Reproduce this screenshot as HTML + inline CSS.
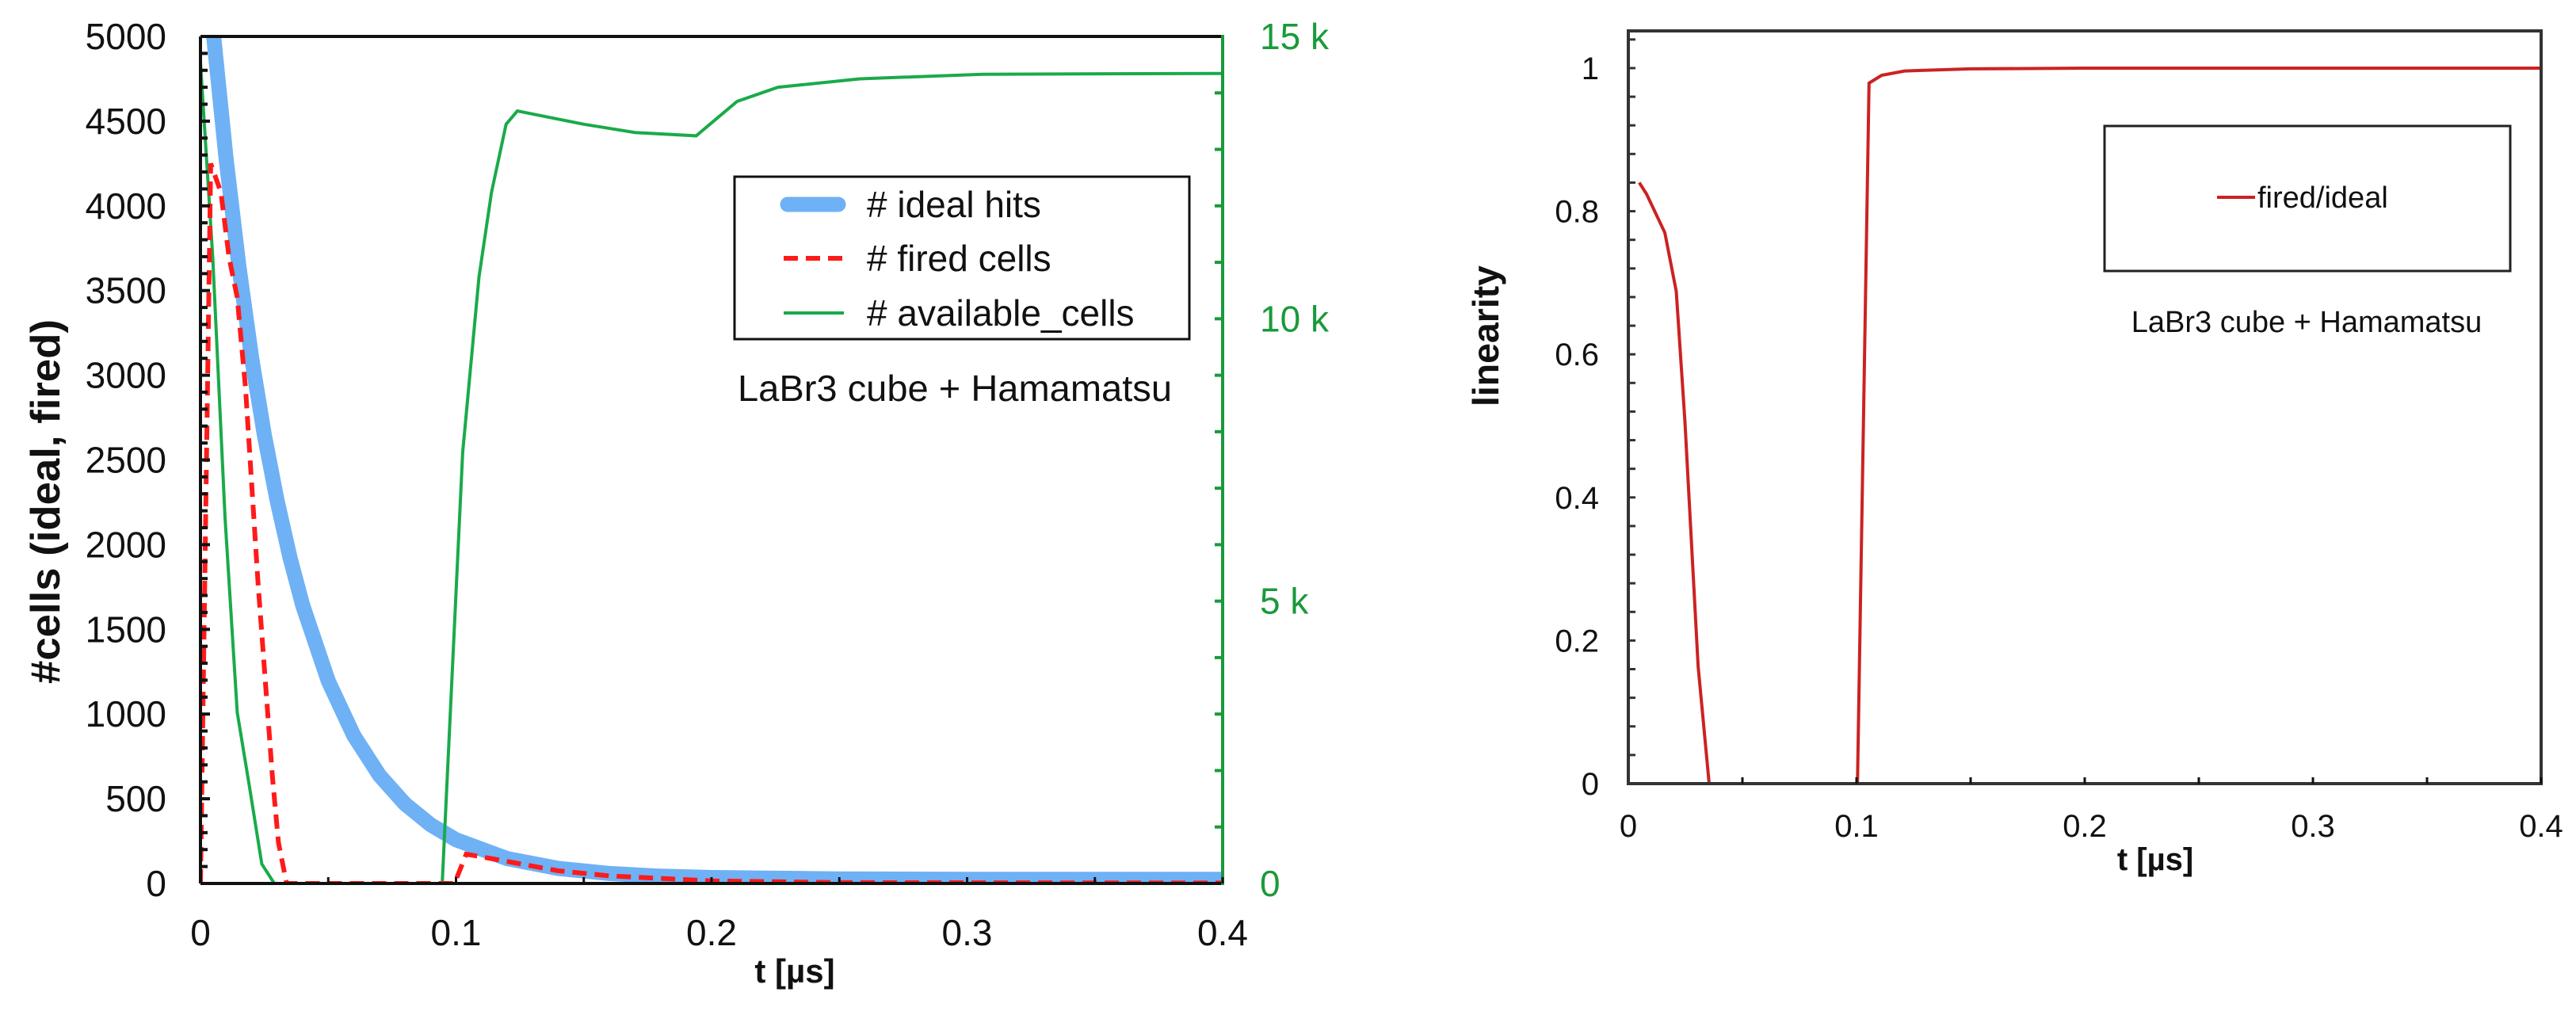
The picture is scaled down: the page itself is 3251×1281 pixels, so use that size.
<!DOCTYPE html>
<html><head><meta charset="utf-8"><style>
body{margin:0;background:#fff}
svg{display:block}
text{font-family:"Liberation Sans",Arial,sans-serif}
</style></head><body>
<svg id="s" width="3251" height="1281" viewBox="0 0 3251 1281" xmlns="http://www.w3.org/2000/svg">
<defs>
<clipPath id="clipL"><rect x="253" y="46" width="1290" height="1069"/></clipPath>
<clipPath id="clipR"><rect x="2055" y="39" width="1152" height="950"/></clipPath>
</defs>
<g id="left"></g>
<g id="right"></g>
</svg>
<script>
// ---- Left chart data ----
const idealT = [0, 0.005, 0.01, 0.015, 0.02, 0.025, 0.03, 0.035, 0.04, 0.05, 0.06, 0.07, 0.08, 0.09, 0.1, 0.12, 0.14, 0.16, 0.18, 0.2, 0.25, 0.3, 0.4];
const idealV = [5800, 5025, 4280, 3647, 3105, 2648, 2258, 1925, 1642, 1195, 873, 639, 470, 347, 258, 147, 89, 59, 43, 35, 27, 25, 25];
const firedT = [0, 0.004, 0.008, 0.0112, 0.0144, 0.0176, 0.0225, 0.0282, 0.0305, 0.0337, 0.0994, 0.104, 0.12, 0.14, 0.16, 0.2, 0.25, 0.4];
const firedV = [0, 4250, 4080, 3695, 3460, 2928, 1777, 625, 242, 0, 0, 173, 130, 75, 45, 15, 5, 3];
const availT = [0, 0.0048, 0.0096, 0.0144, 0.019, 0.024, 0.0289, 0.0946, 0.1026, 0.109, 0.1139, 0.1196, 0.124, 0.15, 0.17, 0.194, 0.21, 0.226, 0.258, 0.306, 0.4];
const availV = [14540, 11085, 6480, 3030, 1760, 345, 0, 0, 7630, 10740, 12240, 13445, 13680, 13445, 13300, 13240, 13850, 14100, 14250, 14330, 14345];
const leftYTicks = [0, 500, 1000, 1500, 2000, 2500, 3000, 3500, 4000, 4500, 5000];
const rightYTicks = [0, 5000, 10000, 15000];
const rightYLabels = ["0", "5 k", "10 k", "15 k"];
const xTicks = [0, 0.1, 0.2, 0.3, 0.4];
const xTickLabels = ["0", "0.1", "0.2", "0.3", "0.4"];
// ---- Right chart data ----
const linT = [0.0048, 0.008, 0.016, 0.021, 0.0248, 0.0306, 0.0354, 0.1004, 0.1055, 0.111, 0.121, 0.15, 0.2, 0.4];
const linV = [0.84, 0.824, 0.77, 0.688, 0.507, 0.164, 0, 0, 0.979, 0.99, 0.996, 0.999, 1, 1];
const linYTicks = [0, 0.2, 0.4, 0.6, 0.8, 1];
const linYLabels = ["0", "0.2", "0.4", "0.6", "0.8", "1"];

const NS = "http://www.w3.org/2000/svg";
function mk(parent, tag, attrs, txt){
  const e = document.createElementNS(NS, tag);
  for (const k in attrs) e.setAttribute(k, attrs[k]);
  if (txt !== undefined) e.textContent = txt;
  parent.appendChild(e);
  return e;
}
const LX0 = 253, LX1 = 1543, LY0 = 1115, LY1 = 46;
const lx = t => LX0 + (t / 0.4) * (LX1 - LX0);
const ly = v => LY0 - (v / 5000) * (LY0 - LY1);
const ly2 = v => LY0 - (v / 15000) * (LY0 - LY1);
const RX0 = 2055, RX1 = 3207, RY0 = 989, RY1 = 39;
const rx = t => RX0 + (t / 0.4) * (RX1 - RX0);
const ry = v => RY0 - (v / 1.052) * (RY0 - RY1);

function pathD(ts, vs, fx, fy){
  return ts.map((t, i) => (i ? "L" : "M") + fx(t).toFixed(1) + "," + fy(vs[i]).toFixed(1)).join(" ");
}

const L = document.getElementById("left");
const gL = mk(L, "g", {"clip-path": "url(#clipL)"});
const pIdeal = mk(gL, "path", {d: pathD(idealT, idealV, lx, ly), fill: "none", stroke: "#6fb1f5", "stroke-width": 19, "stroke-linejoin": "round"});


const pAvail = mk(gL, "path", {d: pathD(availT, availV, lx, ly2), fill: "none", stroke: "#1aaa4a", "stroke-width": 4});


const pFired = mk(gL, "path", {d: pathD(firedT, firedV, lx, ly), fill: "none", stroke: "#ff1a1a", "stroke-width": 6, "stroke-dasharray": "18 10"});


mk(L, "line", {x1: LX0, y1: LY1, x2: LX1, y2: LY1, stroke: "#111", "stroke-width": 4});
mk(L, "line", {x1: LX0, y1: LY0, x2: LX1, y2: LY0, stroke: "#111", "stroke-width": 4});
mk(L, "line", {x1: LX0, y1: LY1, x2: LX0, y2: LY0, stroke: "#111", "stroke-width": 4});
mk(L, "line", {x1: LX1, y1: LY1 - 2, x2: LX1, y2: LY0 + 2, stroke: "#1a9a3a", "stroke-width": 4});
for (let v = 0; v <= 5000; v += 100) mk(L, "line", {x1: LX0, x2: LX0 + (v % 500 ? 9 : 12), y1: ly(v), y2: ly(v), stroke: "#111", "stroke-width": 4});
leftYTicks.forEach(v => {
  const t = mk(L, "text", {x: 210, y: ly(v) + 16, "font-size": 46, "text-anchor": "end", fill: "#111"}, String(v));
  
  
});
for (let v = 1000; v < 15000; v += 1000) mk(L, "line", {x1: LX1 - 10, x2: LX1, y1: ly2(v), y2: ly2(v), stroke: "#1a9a3a", "stroke-width": 4});
rightYTicks.forEach((v, i) => {
  const t = mk(L, "text", {x: 1590, y: ly2(v) + 16, "font-size": 46, fill: "#1a9a3a"}, rightYLabels[i]);
  
  
});
for (let t = 0.05; t < 0.4; t += 0.05) mk(L, "line", {x1: lx(t), x2: lx(t), y1: LY0, y2: LY0 - 8, stroke: "#111", "stroke-width": 3});
xTicks.forEach((t, i) => {
  const e = mk(L, "text", {x: lx(t), y: 1193, "font-size": 46, "text-anchor": "middle", fill: "#111"}, xTickLabels[i]);
  
  
});
mk(L, "rect", {x: 927, y: 223, width: 574, height: 205, fill: "#fff", stroke: "#111", "stroke-width": 3,  });
mk(L, "line", {x1: 994, y1: 258, x2: 1058, y2: 258, stroke: "#6fb1f5", "stroke-width": 19, "stroke-linecap": "round"});
mk(L, "line", {x1: 989, y1: 326, x2: 1065, y2: 326, stroke: "#ff1a1a", "stroke-width": 6, "stroke-dasharray": "18 10"});
mk(L, "line", {x1: 989, y1: 395, x2: 1065, y2: 395, stroke: "#1aaa4a", "stroke-width": 4});
mk(L, "text", {x: 1094, y: 274, "font-size": 46, fill: "#111",  }, "# ideal hits");
mk(L, "text", {x: 1094, y: 342, "font-size": 46, fill: "#111",  }, "# fired cells");
mk(L, "text", {x: 1094, y: 411, "font-size": 46, fill: "#111",  }, "# available_cells");
mk(L, "text", {x: 931, y: 506, "font-size": 46, fill: "#111", textLength: 548, lengthAdjust: "spacingAndGlyphs",  }, "LaBr3 cube + Hamamatsu");
mk(L, "text", {x: 1003, y: 1240, "font-size": 42, "font-weight": "bold", "text-anchor": "middle", fill: "#111",  }, "t [µs]");
mk(L, "text", {x: 0, y: 0, "font-size": 52, "font-weight": "bold", "text-anchor": "middle", fill: "#111", transform: "translate(75,633) rotate(-90)", textLength: 460, lengthAdjust: "spacingAndGlyphs",  }, "#cells (ideal, fired)");

const R = document.getElementById("right");
const gR = mk(R, "g", {"clip-path": "url(#clipR)"});
const pLin = mk(gR, "path", {d: pathD(linT, linV, rx, ry), fill: "none", stroke: "#cc2222", "stroke-width": 4});


mk(R, "rect", {x: RX0, y: RY1, width: RX1 - RX0, height: RY0 - RY1, fill: "none", stroke: "#333", "stroke-width": 4});
for (let v = 0.04; v < 1.05; v += 0.04) mk(R, "line", {x1: RX0, x2: RX0 + 9, y1: ry(v), y2: ry(v), stroke: "#333", "stroke-width": 3});
linYTicks.forEach((v, i) => {
  const e = mk(R, "text", {x: 2018, y: ry(v) + 14, "font-size": 40, "text-anchor": "end", fill: "#111"}, linYLabels[i]);
  
  
});
for (let t = 0.05; t < 0.4; t += 0.05) mk(R, "line", {x1: rx(t), x2: rx(t), y1: RY0, y2: RY0 - 8, stroke: "#111", "stroke-width": 3});
xTicks.forEach((t, i) => {
  const e = mk(R, "text", {x: rx(t), y: 1056, "font-size": 40, "text-anchor": "middle", fill: "#111"}, xTickLabels[i]);
  
  
});
mk(R, "rect", {x: 2656, y: 159, width: 512, height: 183, fill: "#fff", stroke: "#222", "stroke-width": 3,  });
mk(R, "line", {x1: 2798, y1: 249, x2: 2846, y2: 249, stroke: "#cc2222", "stroke-width": 4});
mk(R, "text", {x: 2849, y: 262, "font-size": 38, fill: "#111",  }, "fired/ideal");
mk(R, "text", {x: 2911, y: 419, "font-size": 38, "text-anchor": "middle", fill: "#111",  }, "LaBr3 cube + Hamamatsu");
mk(R, "text", {x: 2720, y: 1098, "font-size": 40, "font-weight": "bold", "text-anchor": "middle", fill: "#111",  }, "t [µs]");
mk(R, "text", {x: 0, y: 0, "font-size": 46, "font-weight": "bold", "text-anchor": "middle", fill: "#111", transform: "translate(1891,424) rotate(-90)", textLength: 178, lengthAdjust: "spacingAndGlyphs",  }, "linearity");
</script>
</body></html>
